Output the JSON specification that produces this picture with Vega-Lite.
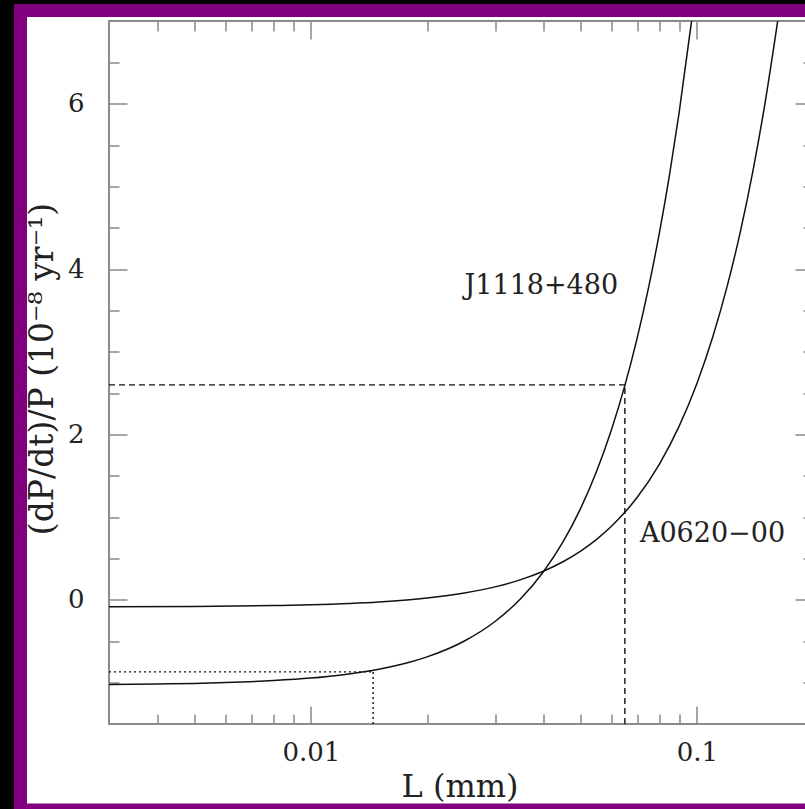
{
  "$schema": "https://vega.github.io/schema/vega-lite/v6.json",
  "width": 794.5,
  "height": 799.5,
  "autosize": {"type": "none"},
  "padding": {"left": 20.5, "top": 10.5, "right": -10, "bottom": -1},
  "background": "#000000",
  "config": {
    "view": {"fill": "#ffffff", "stroke": "#800080", "strokeWidth": 13},
    "axis": {
      "domain": false,
      "grid": false,
      "tickColor": "#888888",
      "tickWidth": 1.5,
      "labelFont": "DejaVu Serif",
      "labelFontSize": 26,
      "labelColor": "#222222",
      "labelOverlap": false,
      "labelFlush": false,
      "labelBound": false,
      "titleFont": "DejaVu Serif",
      "titleFontWeight": "normal",
      "titleColor": "#222222"
    }
  },
  "datasets": {
    "curves": [
      {"src": "J1118+480", "L": 0.003, "v": -1.022},
      {"src": "J1118+480", "L": 0.004, "v": -1.016},
      {"src": "J1118+480", "L": 0.005, "v": -1.009},
      {"src": "J1118+480", "L": 0.006, "v": -0.999},
      {"src": "J1118+480", "L": 0.008, "v": -0.975},
      {"src": "J1118+480", "L": 0.01, "v": -0.945},
      {"src": "J1118+480", "L": 0.012, "v": -0.907},
      {"src": "J1118+480", "L": 0.015, "v": -0.838},
      {"src": "J1118+480", "L": 0.018, "v": -0.753},
      {"src": "J1118+480", "L": 0.02, "v": -0.688},
      {"src": "J1118+480", "L": 0.025, "v": -0.496},
      {"src": "J1118+480", "L": 0.03, "v": -0.261},
      {"src": "J1118+480", "L": 0.035, "v": 0.017},
      {"src": "J1118+480", "L": 0.04, "v": 0.338},
      {"src": "J1118+480", "L": 0.045, "v": 0.701},
      {"src": "J1118+480", "L": 0.05, "v": 1.108},
      {"src": "J1118+480", "L": 0.055, "v": 1.556},
      {"src": "J1118+480", "L": 0.06, "v": 2.048},
      {"src": "J1118+480", "L": 0.065, "v": 2.582},
      {"src": "J1118+480", "L": 0.07, "v": 3.16},
      {"src": "J1118+480", "L": 0.075, "v": 3.779},
      {"src": "J1118+480", "L": 0.08, "v": 4.442},
      {"src": "J1118+480", "L": 0.085, "v": 5.147},
      {"src": "J1118+480", "L": 0.09, "v": 5.896},
      {"src": "J1118+480", "L": 0.0969, "v": 7.0},
      {"src": "A0620-00", "L": 0.003, "v": -0.083},
      {"src": "A0620-00", "L": 0.005, "v": -0.078},
      {"src": "A0620-00", "L": 0.008, "v": -0.068},
      {"src": "A0620-00", "L": 0.01, "v": -0.058},
      {"src": "A0620-00", "L": 0.015, "v": -0.024},
      {"src": "A0620-00", "L": 0.02, "v": 0.023},
      {"src": "A0620-00", "L": 0.025, "v": 0.084},
      {"src": "A0620-00", "L": 0.03, "v": 0.158},
      {"src": "A0620-00", "L": 0.035, "v": 0.246},
      {"src": "A0620-00", "L": 0.04, "v": 0.347},
      {"src": "A0620-00", "L": 0.045, "v": 0.462},
      {"src": "A0620-00", "L": 0.05, "v": 0.59},
      {"src": "A0620-00", "L": 0.055, "v": 0.732},
      {"src": "A0620-00", "L": 0.06, "v": 0.887},
      {"src": "A0620-00", "L": 0.065, "v": 1.056},
      {"src": "A0620-00", "L": 0.07, "v": 1.238},
      {"src": "A0620-00", "L": 0.08, "v": 1.643},
      {"src": "A0620-00", "L": 0.09, "v": 2.102},
      {"src": "A0620-00", "L": 0.1, "v": 2.615},
      {"src": "A0620-00", "L": 0.11, "v": 3.182},
      {"src": "A0620-00", "L": 0.12, "v": 3.803},
      {"src": "A0620-00", "L": 0.13, "v": 4.478},
      {"src": "A0620-00", "L": 0.14, "v": 5.207},
      {"src": "A0620-00", "L": 0.15, "v": 5.99},
      {"src": "A0620-00", "L": 0.162, "v": 7.0}
    ],
    "dashed": [
      {"L": 0.003, "L2": 0.0651, "v": 2.6, "v2": 2.6},
      {"L": 0.0651, "L2": 0.0651, "v": -1.5, "v2": 2.6}
    ],
    "dotted": [
      {"L": 0.003, "L2": 0.0145, "v": -0.87, "v2": -0.87},
      {"L": 0.0145, "L2": 0.0145, "v": -1.5, "v2": -0.87}
    ],
    "labels": [
      {"L": 0.025, "v": 3.8, "name": "J1118+480"},
      {"L": 0.0712, "v": 0.8, "name": "A0620−00"}
    ],
    "frame": [
      {"L": 0.003, "L2": 0.2, "v": -1.5, "v2": 7}
    ]
  },
  "resolve": {"axis": {"x": "independent", "y": "independent"}},
  "layer": [
    {
      "data": {"name": "frame"},
      "mark": {"type": "rect", "fill": "transparent", "stroke": "#8a8a8a", "strokeWidth": 2},
      "encoding": {
        "x": {
          "field": "L", "type": "quantitative",
          "scale": {"type": "log", "domain": [0.0017692, 0.20237], "nice": false},
          "axis": {
            "orient": "top", "offset": -10.5, "labels": false, "title": null,
            "values": [0.004, 0.005, 0.006, 0.007, 0.008, 0.009, 0.01, 0.02, 0.03, 0.04, 0.05, 0.06, 0.07, 0.08, 0.09, 0.1],
            "tickSize": {"condition": {"test": "datum.value == 0.01 || datum.value == 0.1", "value": -18}, "value": -10}
          }
        },
        "x2": {"field": "L2"},
        "y": {
          "field": "v", "type": "quantitative",
          "scale": {"domain": [-2.5398, 7.127], "nice": false, "zero": false},
          "axis": {
            "orient": "right", "offset": -2, "labels": false, "title": null,
            "values": [-1, -0.5, 0, 0.5, 1, 1.5, 2, 2.5, 3, 3.5, 4, 4.5, 5, 5.5, 6, 6.5],
            "tickSize": {"condition": {"test": "datum.value % 2 == 0", "value": -18}, "value": -10}
          }
        },
        "y2": {"field": "v2"}
      }
    },
    {
      "data": {"name": "curves"},
      "mark": {"type": "line", "color": "#111111", "strokeWidth": 1.5, "interpolate": "monotone"},
      "encoding": {
        "x": {
          "field": "L", "type": "quantitative",
          "scale": {"type": "log", "domain": [0.0017692, 0.20237], "nice": false},
          "axis": {
            "orient": "bottom", "offset": -86, "title": "L (mm)", "titlePadding": -2,
            "titleFontSize": 32, "titleX": 439,
            "values": [0.004, 0.005, 0.006, 0.007, 0.008, 0.009, 0.01, 0.02, 0.03, 0.04, 0.05, 0.06, 0.07, 0.08, 0.09, 0.1],
            "tickSize": {"condition": {"test": "datum.value == 0.01 || datum.value == 0.1", "value": -18}, "value": -10},
            "labelExpr": "datum.value == 0.01 ? '0.01' : (datum.value == 0.1 ? '0.1' : '')",
            "labelPadding": 33.5
          }
        },
        "y": {
          "field": "v", "type": "quantitative",
          "scale": {"domain": [-2.5398, 7.127], "nice": false, "zero": false},
          "axis": {
            "orient": "left", "offset": -88.5, "title": "(dP/dt)/P (10⁻⁸ yr⁻¹)", "titlePadding": 8,
            "titleFontSize": 33, "titleY": 358,
            "values": [-1, -0.5, 0, 0.5, 1, 1.5, 2, 2.5, 3, 3.5, 4, 4.5, 5, 5.5, 6, 6.5],
            "tickSize": {"condition": {"test": "datum.value % 2 == 0", "value": -18}, "value": -10},
            "labelExpr": "datum.value % 2 == 0 ? '' + datum.value : ''",
            "labelPadding": 43
          }
        },
        "detail": {"field": "src"}
      }
    },
    {
      "data": {"name": "dashed"},
      "mark": {"type": "rule", "color": "#111111", "strokeWidth": 1.4, "strokeDash": [6, 4]},
      "encoding": {
        "x": {"field": "L", "type": "quantitative", "scale": {"type": "log", "domain": [0.0017692, 0.20237], "nice": false}, "axis": null},
        "x2": {"field": "L2"},
        "y": {"field": "v", "type": "quantitative", "scale": {"domain": [-2.5398, 7.127], "nice": false, "zero": false}, "axis": null},
        "y2": {"field": "v2"}
      }
    },
    {
      "data": {"name": "dotted"},
      "mark": {"type": "rule", "color": "#111111", "strokeWidth": 1.4, "strokeDash": [2, 3]},
      "encoding": {
        "x": {"field": "L", "type": "quantitative", "scale": {"type": "log", "domain": [0.0017692, 0.20237], "nice": false}, "axis": null},
        "x2": {"field": "L2"},
        "y": {"field": "v", "type": "quantitative", "scale": {"domain": [-2.5398, 7.127], "nice": false, "zero": false}, "axis": null},
        "y2": {"field": "v2"}
      }
    },
    {
      "data": {"name": "labels"},
      "mark": {"type": "text", "align": "left", "baseline": "middle", "font": "DejaVu Serif", "fontSize": 27, "color": "#222222"},
      "encoding": {
        "x": {"field": "L", "type": "quantitative", "scale": {"type": "log", "domain": [0.0017692, 0.20237], "nice": false}, "axis": null},
        "y": {"field": "v", "type": "quantitative", "scale": {"domain": [-2.5398, 7.127], "nice": false, "zero": false}, "axis": null},
        "text": {"field": "name"}
      }
    }
  ]
}
